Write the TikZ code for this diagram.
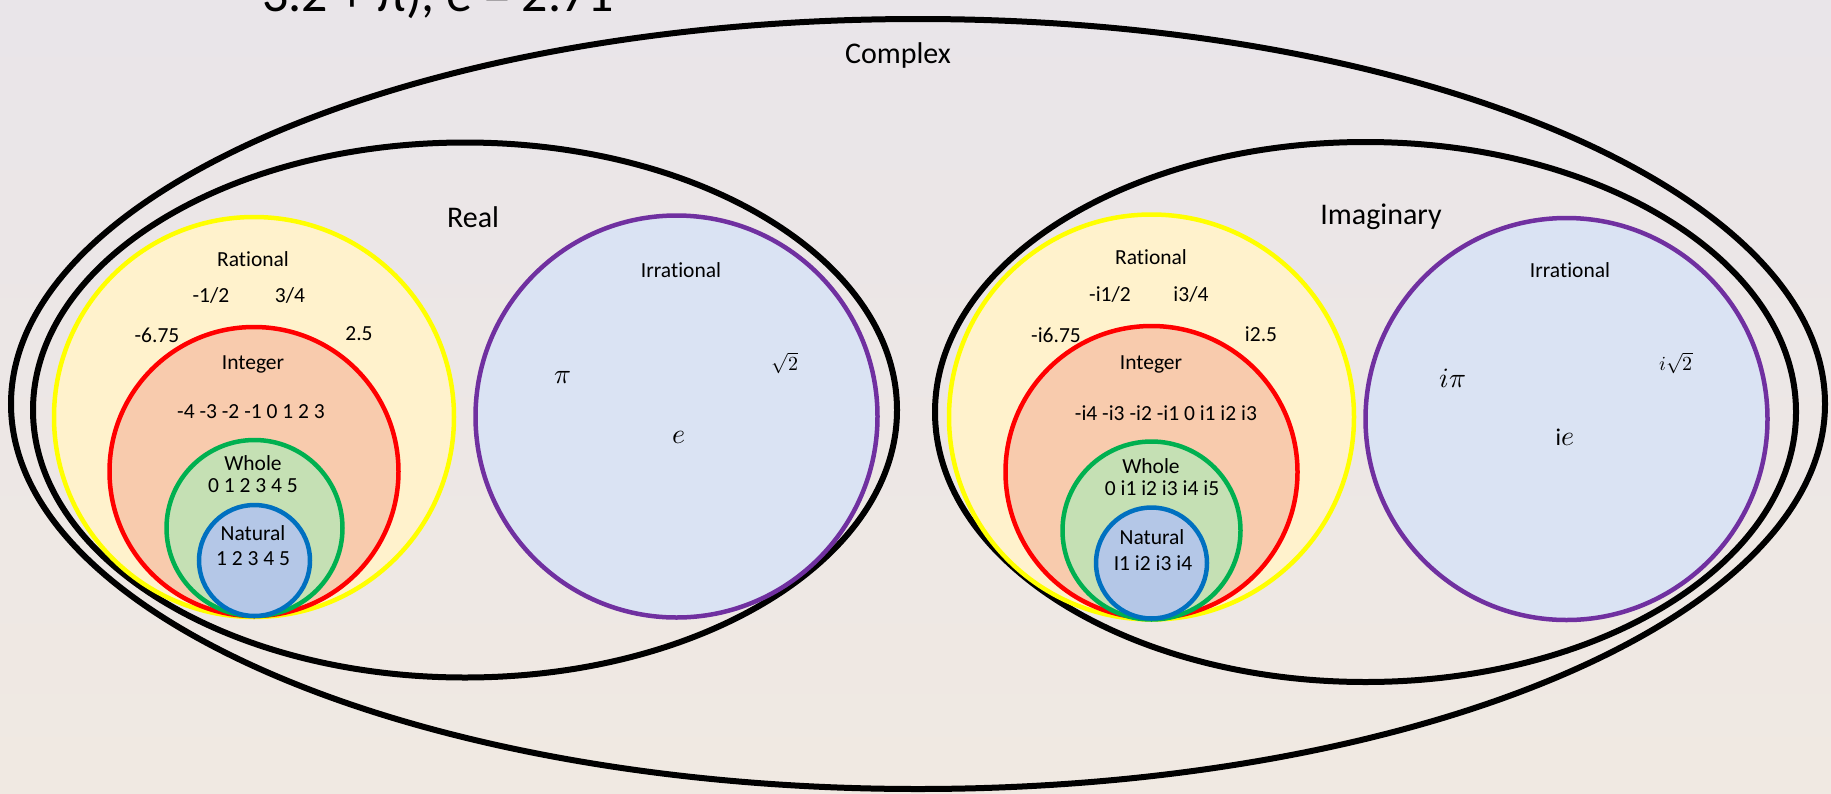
\documentclass[tikz,border=0pt]{standalone}
\usepackage{fontspec}
\usepackage{unicode-math}
\setmainfont{Carlito}[Ligatures=NoCommon]
\setmathfont{Latin Modern Math}
\usetikzlibrary{shapes.geometric}

\definecolor{papertop}{RGB}{233,229,233}
\definecolor{paperbot}{RGB}{240,233,226}
\definecolor{ratfill}{RGB}{255,242,204}
\definecolor{ratline}{RGB}{255,255,0}
\definecolor{intfill}{RGB}{248,203,173}
\definecolor{intline}{RGB}{255,0,0}
\definecolor{whofill}{RGB}{197,224,180}
\definecolor{wholine}{RGB}{0,176,80}
\definecolor{natfill}{RGB}{180,199,231}
\definecolor{natline}{RGB}{0,112,192}
\definecolor{irrfill}{RGB}{218,227,243}
\definecolor{irrline}{RGB}{112,48,160}

\tikzset{
  setring/.style={ellipse, draw=black, line width=6pt, inner sep=0pt},
  ratset/.style={circle, inner sep=0pt, fill=ratfill, draw=ratline, line width=4.5pt},
  intset/.style={circle, inner sep=0pt, fill=intfill, draw=intline, line width=4.5pt},
  whoset/.style={circle, inner sep=0pt, fill=whofill, draw=wholine, line width=4.5pt},
  natset/.style={circle, inner sep=0pt, fill=natfill, draw=natline, line width=4.5pt},
  irrset/.style={circle, inner sep=0pt, fill=irrfill, draw=irrline, line width=4.5pt},
  biglabel/.style={inner sep=0pt, font=\fontsize{30}{36}\selectfont},
  smalllabel/.style={inner sep=0pt, font=\fontsize{21.5}{26}\selectfont},
  mathlabel/.style={inner sep=0pt, font=\fontsize{28}{32}\selectfont},
  rootlabel/.style={inner sep=0pt, font=\fontsize{20}{24}\selectfont},
}

\begin{document}
\begin{tikzpicture}[x=1pt, y=-1pt]
\useasboundingbox (0,0) rectangle (1831,793);
\shade[top color=papertop, bottom color=paperbot] (0,0) rectangle (1831,793);

% heading line running off the top edge
\begin{scope}
\clip (0,0) rectangle (1831,793);
\node[anchor=base west, inner sep=0pt, font=\fontsize{52}{60}\selectfont] (heading) at (262,11) {3.2 + π), e = 2.71};
\end{scope}

% outer rings
\node[setring, minimum width=1814pt, minimum height=770pt] (complex) at (918,404) {};
\node[setring, minimum width=864pt, minimum height=535pt] (real) at (465,410) {};
\node[setring, minimum width=861pt, minimum height=540pt] (imag) at (1365.5,412) {};

\node[biglabel] (complexlbl) at (898,55) {Complex};
\node[biglabel] (reallbl) at (473,217) {Real};
\node[biglabel] (imaglbl) at (1381,217) {Imaginary};

% real side: nested rational sets
\node[ratset, minimum size=400pt] (ratR) at (254,417) {};
\node[intset, minimum size=289pt] (intR) at (254,471.5) {};
\node[whoset, minimum size=176pt] (whoR) at (254.5,528) {};
\node[natset, minimum size=111pt] (natR) at (254.5,560.5) {};

\node[smalllabel] (ratRl) at (253,259) {Rational};
\node[smalllabel] (ratRa) at (211,295) {-1/2};
\node[smalllabel] (ratRb) at (290,295) {3/4};
\node[smalllabel] (ratRc) at (157,335) {-6.75};
\node[smalllabel] (ratRd) at (359,334) {2.5};
\node[smalllabel] (intRl) at (253,364) {Integer};
\node[smalllabel] (intRn) at (251,412) {-4 -3 -2 -1 0 1 2 3};
\node[smalllabel] (whoRl) at (253,463) {Whole};
\node[smalllabel] (whoRn) at (253,486) {0 1 2 3 4 5};
\node[smalllabel] (natRl) at (253,533) {Natural};
\node[smalllabel] (natRn) at (253,559) {1 2 3 4 5};

% real side: irrational set
\node[irrset, minimum size=402pt] (irrR) at (676.5,416.5) {};
\node[smalllabel] (irrRl) at (681,270) {Irrational};
\node[mathlabel] (irrRa) at (563,378) {$\pi$};
\node[rootlabel] (irrRb) at (785,363) {$\sqrt{2}$};
\node[mathlabel] (irrRc) at (679,437) {$e$};

% imaginary side: nested rational sets
\node[ratset, minimum size=405pt] (ratI) at (1151.5,417) {};
\node[intset, minimum size=292pt] (intI) at (1151.5,472) {};
\node[whoset, minimum size=178pt] (whoI) at (1151.5,530.5) {};
\node[natset, minimum size=111pt] (natI) at (1151.5,563) {};

\node[smalllabel] (ratIl) at (1151,257) {Rational};
\node[smalllabel] (ratIa) at (1110,294) {-i1/2};
\node[smalllabel] (ratIb) at (1191,294) {i3/4};
\node[smalllabel] (ratIc) at (1056,335) {-i6.75};
\node[smalllabel] (ratId) at (1261,334) {i2.5};
\node[smalllabel] (intIl) at (1151,364) {Integer};
\node[smalllabel] (intIn) at (1166,413) {-i4 -i3 -i2 -i1 0 i1 i2 i3};
\node[smalllabel] (whoIl) at (1151,466) {Whole};
\node[smalllabel] (whoIn) at (1162,488) {0 i1 i2 i3 i4 i5};
\node[smalllabel] (natIl) at (1152,537) {Natural};
\node[smalllabel] (natIn) at (1153,563) {I1 i2 i3 i4};

% imaginary side: irrational set
\node[irrset, minimum size=402pt] (irrI) at (1566.5,419) {};
\node[smalllabel] (irrIl) at (1570,270) {Irrational};
\node[mathlabel] (irrIa) at (1453,378) {$i\pi$};
\node[rootlabel] (irrIb) at (1676,363) {$i\sqrt{2}$};
\node[mathlabel] (irrIc) at (1565,437) {{\fontsize{24}{28}\selectfont i}$e$};
\end{tikzpicture}
\end{document}
